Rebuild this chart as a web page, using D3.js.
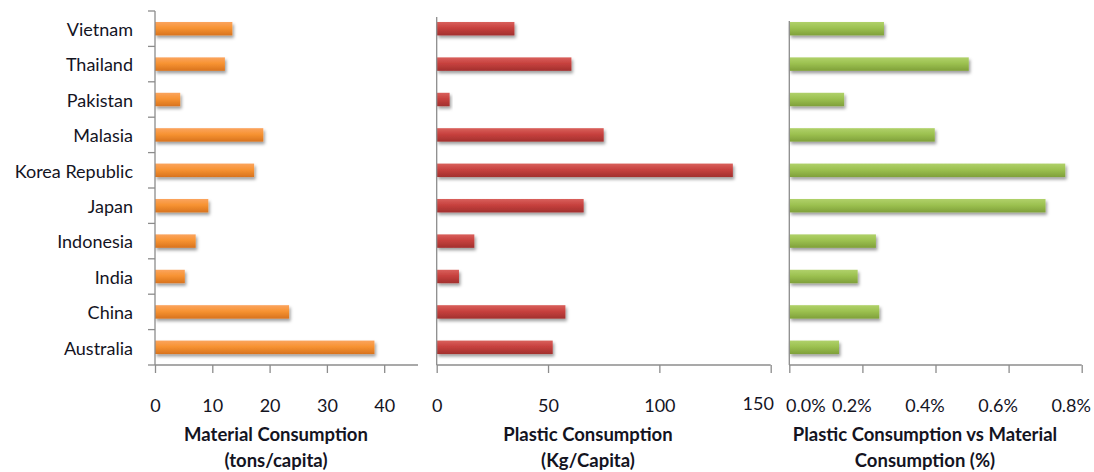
<!DOCTYPE html>
<html>
<head>
<meta charset="utf-8">
<script src="https://cdn.jsdelivr.net/npm/d3@7"></script>
<style>
  html, body { margin: 0; padding: 0; background: #fff; }
  svg { display: block; }
  text { font-family: Lato, "Open Sans", sans-serif; fill: #14141f; }
</style>
</head>
<body>
<svg id="chart" width="1094" height="472"></svg>
<script>
// Countries, top to bottom
const countries = ["Vietnam", "Thailand", "Pakistan", "Malasia", "Korea Republic",
                   "Japan", "Indonesia", "India", "China", "Australia"];

// Material consumption, tons per capita
const materialValues = [13.5, 12.2, 4.4, 18.9, 17.3, 9.3, 7.1, 5.2, 23.4, 38.3];

// Plastic consumption, kg per capita
const plasticValues = [34.9, 60.5, 5.8, 75.0, 133.0, 66.0, 16.9, 10.0, 57.8, 52.1];

// Plastic consumption as a share of material consumption (fraction)
const shareValues = [0.00259, 0.00491, 0.00150, 0.00398, 0.00755, 0.00701,
                     0.00237, 0.00187, 0.00246, 0.00136];

const materialTicks = [0, 10, 20, 30, 40];
const plasticTicks = [0, 50, 100, 150];
const shareTicks = [0, 0.002, 0.004, 0.006, 0.008];

const svg = d3.select("#chart");
const defs = svg.append("defs");

// Soft drop shadow under the bars
const shadow = defs.append("filter").attr("id", "barShadow")
  .attr("x", "-10%").attr("y", "-30%").attr("width", "130%").attr("height", "190%");
shadow.append("feDropShadow").attr("dx", 1.5).attr("dy", 2.5)
  .attr("stdDeviation", 1.8).attr("flood-color", "#000").attr("flood-opacity", 0.38);

function gradient(id, light, base, dark) {
  const g = defs.append("linearGradient").attr("id", id)
    .attr("x1", 0).attr("y1", 0).attr("x2", 0).attr("y2", 1);
  g.append("stop").attr("offset", "0%").attr("stop-color", light);
  g.append("stop").attr("offset", "45%").attr("stop-color", base);
  g.append("stop").attr("offset", "100%").attr("stop-color", dark);
}
gradient("gOrange", "#fba45e", "#f79332", "#d8731e");
gradient("gRed", "#d9605c", "#c7413e", "#a2302e");
gradient("gGreen", "#b0d16a", "#9cc150", "#7fa03a");

const axisColor = "#8c8c8c";
const textColor = "#14141f";
const plotTop = 11, plotBottom = 365;

const y = d3.scaleBand().domain(countries).range([plotTop, plotBottom])
  .paddingInner(0.62).paddingOuter(0.31);

const panels = [
  { values: materialValues, domain: [0, 45.9], range: [155, 418], ticks: materialTicks,
    fmt: d => d3.format("d")(d), fill: "url(#gOrange)", axisTop: plotTop, catTicks: true,
    title: ["Material Consumption", "(tons/capita)"], titleX: 276,
    labelDx: () => 0, labelDy: () => 0 },
  { values: plasticValues, domain: [0, 150], range: [436.7, 770.7], ticks: plasticTicks,
    fmt: d => d3.format("d")(d), fill: "url(#gRed)", axisTop: 17, catTicks: false,
    title: ["Plastic Consumption", "(Kg/Capita)"], titleX: 588,
    labelDx: (d, i, n) => (i === n - 1 ? -13 : 0), labelDy: (d, i, n) => (i === n - 1 ? -2 : 0) },
  { values: shareValues, domain: [0, 0.008], range: [789.3, 1081.7], ticks: shareTicks,
    fmt: d => d3.format(".1%")(d), fill: "url(#gGreen)", axisTop: 21, catTicks: false,
    title: ["Plastic Consumption vs Material", "Consumption (%)"], titleX: 925,
    labelDx: (d, i) => (i === 0 ? 16 : -11), labelDy: () => 0 }
];

panels.forEach(p => {
  const x = d3.scaleLinear().domain(p.domain).range(p.range);
  const g = svg.append("g");

  // Bars
  g.selectAll("rect.bar").data(p.values).join("rect")
    .attr("class", "bar")
    .attr("x", x(0))
    .attr("y", (d, i) => y(countries[i]))
    .attr("width", d => x(d) - x(0))
    .attr("height", y.bandwidth())
    .attr("fill", p.fill)
    .attr("filter", "url(#barShadow)");

  // Value axis along the bottom
  const xAxis = d3.axisBottom(x).tickValues(p.ticks).tickSize(8).tickFormat(p.fmt);
  const ax = g.append("g").attr("transform", `translate(0,${plotBottom})`).call(xAxis);
  ax.select(".domain").attr("stroke", axisColor).attr("stroke-width", 1.3)
    .attr("d", `M${p.range[0]},0H${p.range[1]}`);
  ax.selectAll(".tick line").attr("stroke", axisColor).attr("stroke-width", 1.3);
  const n = p.ticks.length;
  ax.selectAll(".tick text")
    .attr("y", 0).attr("dy", 0)
    .attr("transform", (d, i) => `translate(${p.labelDx(d, i, n)},${47 + p.labelDy(d, i, n)})`)
    .style("font-size", "18px")
    .style("font-family", "Lato, sans-serif")
    .attr("fill", textColor);

  // Category axis on the left of each panel
  g.append("line")
    .attr("x1", x(0)).attr("x2", x(0))
    .attr("y1", p.axisTop).attr("y2", plotBottom)
    .attr("stroke", axisColor).attr("stroke-width", 1.3);

  if (p.catTicks) {
    const yAxis = d3.axisLeft(y).tickSize(0).tickPadding(22);
    const ay = g.append("g").attr("transform", `translate(${x(0)},1.5)`).call(yAxis);
    ay.select(".domain").remove();
    ay.selectAll(".tick text")
      .style("font-size", "18px")
      .style("font-family", "Lato, sans-serif")
      .attr("fill", textColor);
    // Tick marks between categories
    const edges = countries.map(c => y(c) - y.step() * y.paddingInner() / 2).concat([plotBottom]);
    edges[0] = plotTop;
    g.selectAll("line.cat").data(edges).join("line")
      .attr("class", "cat")
      .attr("x1", x(0) - 7).attr("x2", x(0))
      .attr("y1", d => d).attr("y2", d => d)
      .attr("stroke", axisColor).attr("stroke-width", 1.3);
  }

  // Axis title, two lines
  g.append("text")
    .attr("x", p.titleX).attr("text-anchor", "middle")
    .style("font-size", "18.5px").style("font-weight", "bold")
    .attr("fill", textColor)
    .selectAll("tspan").data(p.title).join("tspan")
    .attr("x", p.titleX)
    .attr("y", (d, i) => 441 + i * 26)
    .text(d => d);
});
</script>
</body>
</html>
